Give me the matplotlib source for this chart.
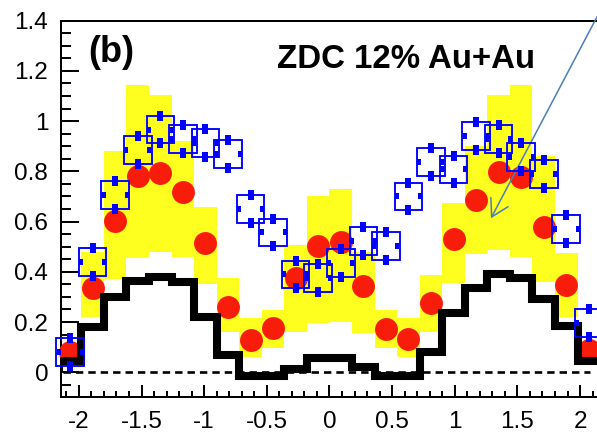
import numpy as np
import matplotlib
matplotlib.use("Agg")
import matplotlib.pyplot as plt
from matplotlib.patches import Rectangle
from matplotlib.ticker import MultipleLocator, FixedLocator

plt.rcParams['font.family'] = ['Liberation Sans', 'DejaVu Sans']
plt.rcParams['axes.unicode_minus'] = False

# dphi binning: 24 bins, 0.18 wide
edges = np.round(np.arange(-12, 13) * 0.18, 2)
centers = 0.5 * (edges[:-1] + edges[1:])
bin_w = 0.18

# black histogram
black_hist = [0.045, 0.18, 0.30, 0.365, 0.38, 0.36, 0.22, 0.07, -0.015, -0.015, 0.015, 0.055,
              0.055, 0.02, -0.015, -0.015, 0.08, 0.235, 0.335, 0.39, 0.375, 0.29, 0.185, 0.045]

# red points
red_pts = [0.082, 0.335, 0.604, 0.782, 0.795, 0.716, 0.516, 0.261, 0.129, 0.175, 0.374, 0.503,
           0.52, 0.344, 0.171, 0.131, 0.275, 0.53, 0.686, 0.797, 0.779, 0.58, 0.348, 0.089]

# yellow systematic band (nan = no band)
band_lo = [np.nan, 0.22, 0.37, 0.455, 0.48, 0.46, 0.35, 0.16, 0.062, 0.095, 0.16, 0.195,
           0.20, 0.155, 0.095, 0.062, 0.16, 0.355, 0.47, 0.487, 0.46, 0.36, 0.22, np.nan]
band_hi = [np.nan, 0.48, 0.88, 1.145, 1.105, 0.92, 0.66, 0.375, 0.215, 0.248, 0.507, 0.70,
           0.73, 0.48, 0.248, 0.215, 0.387, 0.675, 0.90, 1.105, 1.145, 0.86, 0.476, np.nan]

# blue points with boxes
blue_pts = [0.08, 0.44, 0.707, 0.884, 0.966, 0.93, 0.912, 0.87, 0.65, 0.557, 0.39, 0.375,
            0.435, 0.524, 0.504, 0.70, 0.837, 0.808, 0.94, 0.93, 0.857, 0.79, 0.57, 0.196]

xticks = [-2, -1.5, -1, -0.5, 0, 0.5, 1, 1.5, 2]
xticklabels = ['-2', '-1.5', '-1', '-0.5', '0', '0.5', '1', '1.5', '2']
yticks = [0, 0.2, 0.4, 0.6, 0.8, 1.0, 1.2, 1.4]
yticklabels = ['0', '0.2', '0.4', '0.6', '0.8', '1', '1.2', '1.4']

fig = plt.figure(figsize=(5.97, 4.32), dpi=100)
ax = fig.add_axes([0.1017, 0.0801, 0.9035, 0.872])
ax.set_xlim(-2.145, 2.16)
ax.set_ylim(-0.1, 1.4)

yellow = '#ffff1f'
red = '#f81c0a'
blue = '#0000ff'

lo = np.array(band_lo)
hi = np.array(band_hi)
ok = ~np.isnan(lo)
ax.bar(centers[ok], (hi - lo)[ok], bottom=lo[ok], width=bin_w, color=yellow, lw=0, zorder=1)

ax.plot([-2.13, 2.08], [0, 0], color='k', lw=1.9, ls=(0, (2.8, 1.9)), zorder=2)

ax.plot(centers, red_pts, 'o', color=red, ms=16.5, mew=0, zorder=3, clip_on=False)

ax.stairs(black_hist, edges, color='k', lw=5.8, zorder=4, joinstyle='miter')

# boxes and error-bar ends
hw, hh = 0.11, 0.055
bar_marker = [(-0.32, -0.5), (0.32, -0.5), (0.32, 0.5), (-0.32, 0.5), (-0.32, -0.5)]
by = np.array(blue_pts)
for c, y in zip(centers, by):
    ax.add_patch(Rectangle((c - hw, y - hh), 2 * hw, 2 * hh, fill=False, ec=blue,
                           lw=1.35, zorder=5, clip_on=False))
ax.plot(centers, by + hh, ls='none', marker=bar_marker, ms=7, color=blue, mew=0,
        zorder=6, clip_on=False)
ax.plot(centers, by - hh, ls='none', marker=bar_marker, ms=7, color=blue, mew=0,
        zorder=6, clip_on=False)
ax.plot(centers - hw + 0.018, by, ls='none', marker=bar_marker, ms=3.8, color=blue, mew=0,
        zorder=6, clip_on=False)
ax.plot(centers + hw - 0.018, by, ls='none', marker=bar_marker, ms=3.8, color=blue, mew=0,
        zorder=6, clip_on=False)

ax.text(-1.926, 1.237, '(b)', fontsize=26, fontweight='bold', va='baseline', ha='left')
ax.text(-0.418, 1.212, 'ZDC 12% Au+Au', fontsize=23.8, fontweight='bold', va='baseline', ha='left')

ax.xaxis.set_major_locator(FixedLocator(xticks))
ax.set_xticklabels(xticklabels)
ax.xaxis.set_minor_locator(MultipleLocator(0.1))
ax.yaxis.set_major_locator(FixedLocator(yticks))
ax.set_yticklabels(yticklabels)
ax.yaxis.set_minor_locator(MultipleLocator(0.05))

ax.tick_params(axis='both', which='both', direction='in', width=1.44, top=False, right=False,
               labelsize=17.5)
ax.tick_params(axis='y', which='major', length=13, pad=9)
ax.tick_params(axis='y', which='minor', length=7.2)
ax.tick_params(axis='x', which='major', length=8.6, pad=10)
ax.tick_params(axis='x', which='minor', length=4.3)
for s in ax.spines.values():
    s.set_linewidth(1.44)

ax.annotate('', xy=(0.8224, 0.4947), xytext=(1.0, 0.961), xycoords='figure fraction',
            textcoords='figure fraction',
            arrowprops=dict(arrowstyle='->, head_length=0.6, head_width=0.35',
                            color='#4a7ebb', lw=1.1, mutation_scale=20, shrinkA=0, shrinkB=0))

fig.savefig('out.png', dpi=100)
